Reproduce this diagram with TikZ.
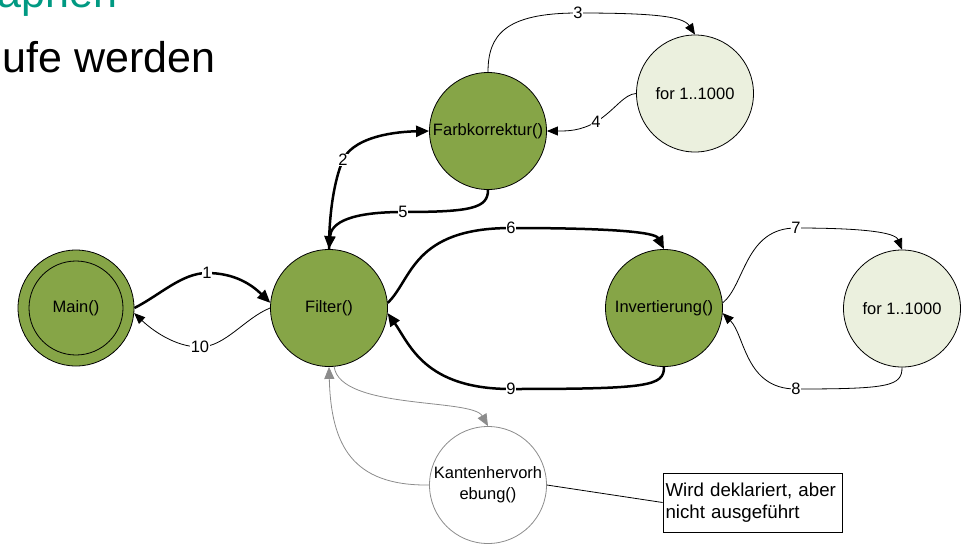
\documentclass[tikz,border=0pt]{standalone}
\usepackage{fontspec}
\setmainfont{Liberation Sans}
\usetikzlibrary{arrows.meta}
\definecolor{fngreen}{RGB}{134,165,71}
\definecolor{looplight}{RGB}{235,240,222}
\definecolor{titleteal}{RGB}{0,153,130}
\definecolor{unused}{RGB}{140,140,140}
\begin{document}
\begin{tikzpicture}[x=1pt,y=-1pt,
  fn/.style={circle,draw=black,line width=0.8pt,fill=fngreen,inner sep=0pt,
    minimum size=117pt,font=\fontsize{16.5}{20}\selectfont},
  loopnode/.style={fn,fill=looplight},
  idle/.style={fn,draw=unused,fill=white,align=center,font=\fontsize{16.5}{21}\selectfont},
  lbl/.style={fill=white,inner sep=0.6pt,font=\fontsize{16.5}{18}\selectfont},
  call/.style={line width=2.5pt,-{Triangle[length=13pt,width=11pt]}},
  iter/.style={line width=0.8pt,-{Triangle[length=11pt,width=9pt]}},
  unusedcall/.style={draw=unused,line width=0.8pt,-{Triangle[length=12pt,width=10pt]}},
  bigtext/.style={anchor=base west,inner sep=0pt,font=\fontsize{43}{50}\selectfont}
]
\useasboundingbox (0,0) rectangle (961,544);
\clip (0,0) rectangle (961,544);

% heading fragments
\node[bigtext,text=titleteal] (heading) at (-2.5,7) {aphen};
\node[bigtext] (subline) at (2.5,72) {ufe werden};

% functions
\node[fn,minimum size=116pt] (main) at (76,308) {};
\node[circle,draw=black,line width=0.8pt,inner sep=0pt,minimum size=94pt,
  font=\fontsize{16.5}{20}\selectfont] (maininner) at (main.center) {Main()};
\node[fn] (filter) at (329,308) {Filter()};
\node[fn] (farb) at (488,131) {Farbkorrektur()};
\node[loopnode] (loopa) at (695,93.5) {for 1..1000};
\node[fn] (inv) at (664,308) {Invertierung()};
\node[loopnode] (loopb) at (902,308.5) {for 1..1000};
\node[idle] (kanten) at (488,485) {Kantenhervorh\\ebung()};

% annotation
\node[draw=black,line width=0.8pt,minimum width=179pt,minimum height=59pt,
  inner xsep=2.5pt,text width=174pt,align=left,
  font=\fontsize{18.7}{22}\selectfont] (note) at (752.5,502.5)
  {Wird deklariert, aber\\nicht ausgeführt};
\draw[line width=0.8pt] (kanten.east) -- (note.west);

% calls
\draw[call] (main.east) .. controls (160,295) and (182,273) .. (207,273) node[lbl] (n1) {1}
  .. controls (235,273) and (252,285) .. (filter.175);
\draw[iter] (filter.west) .. controls (245,318) and (225,347) .. (200,347) node[lbl] (n10) {10}
  .. controls (175,347) and (152,330) .. (main.-5);
\draw[call] (filter.north) .. controls (329,215) and (334,180) .. (343,160) node[lbl] (n2) {2}
  .. controls (352,140) and (385,132) .. (farb.west);
\draw[call] (farb.south) .. controls (488,208) and (472,212) .. (403,212) node[lbl] (n5) {5}
  .. controls (352,212) and (331,222) .. (filter.north);
\draw[iter] (farb.north) .. controls (488,35) and (505,13) .. (578,13) node[lbl] (n3) {3}
  .. controls (650,13) and (683,16) .. (loopa.north);
\draw[iter] (loopa.west) .. controls (624,94) and (615,110) .. (596,122) node[lbl] (n4) {4}
  .. controls (580,131) and (568,131) .. (farb.east);
\draw[call] (filter.5) .. controls (412,280) and (412,228) .. (511,228) node[lbl] (n6) {6}
  .. controls (610,228) and (655,232) .. (inv.north);
\draw[call] (inv.south) .. controls (664,386) and (650,389) .. (511,389) node[lbl] (n9) {9}
  .. controls (425,389) and (410,345) .. (filter.-5);
\draw[iter] (inv.5) .. controls (745,285) and (745,228) .. (796,228) node[lbl] (n7) {7}
  .. controls (860,228) and (895,232) .. (loopb.north);
\draw[iter] (loopb.south) .. controls (902,386) and (890,389) .. (796,389) node[lbl] (n8) {8}
  .. controls (745,389) and (745,335) .. (inv.-5);

% declared but never called
\draw[unusedcall] (kanten.west) .. controls (352,486) and (331,445) .. (filter.south);
\draw[unusedcall] (filter.-85) .. controls (340,410) and (472,398) .. (kanten.north);
\end{tikzpicture}
\end{document}
